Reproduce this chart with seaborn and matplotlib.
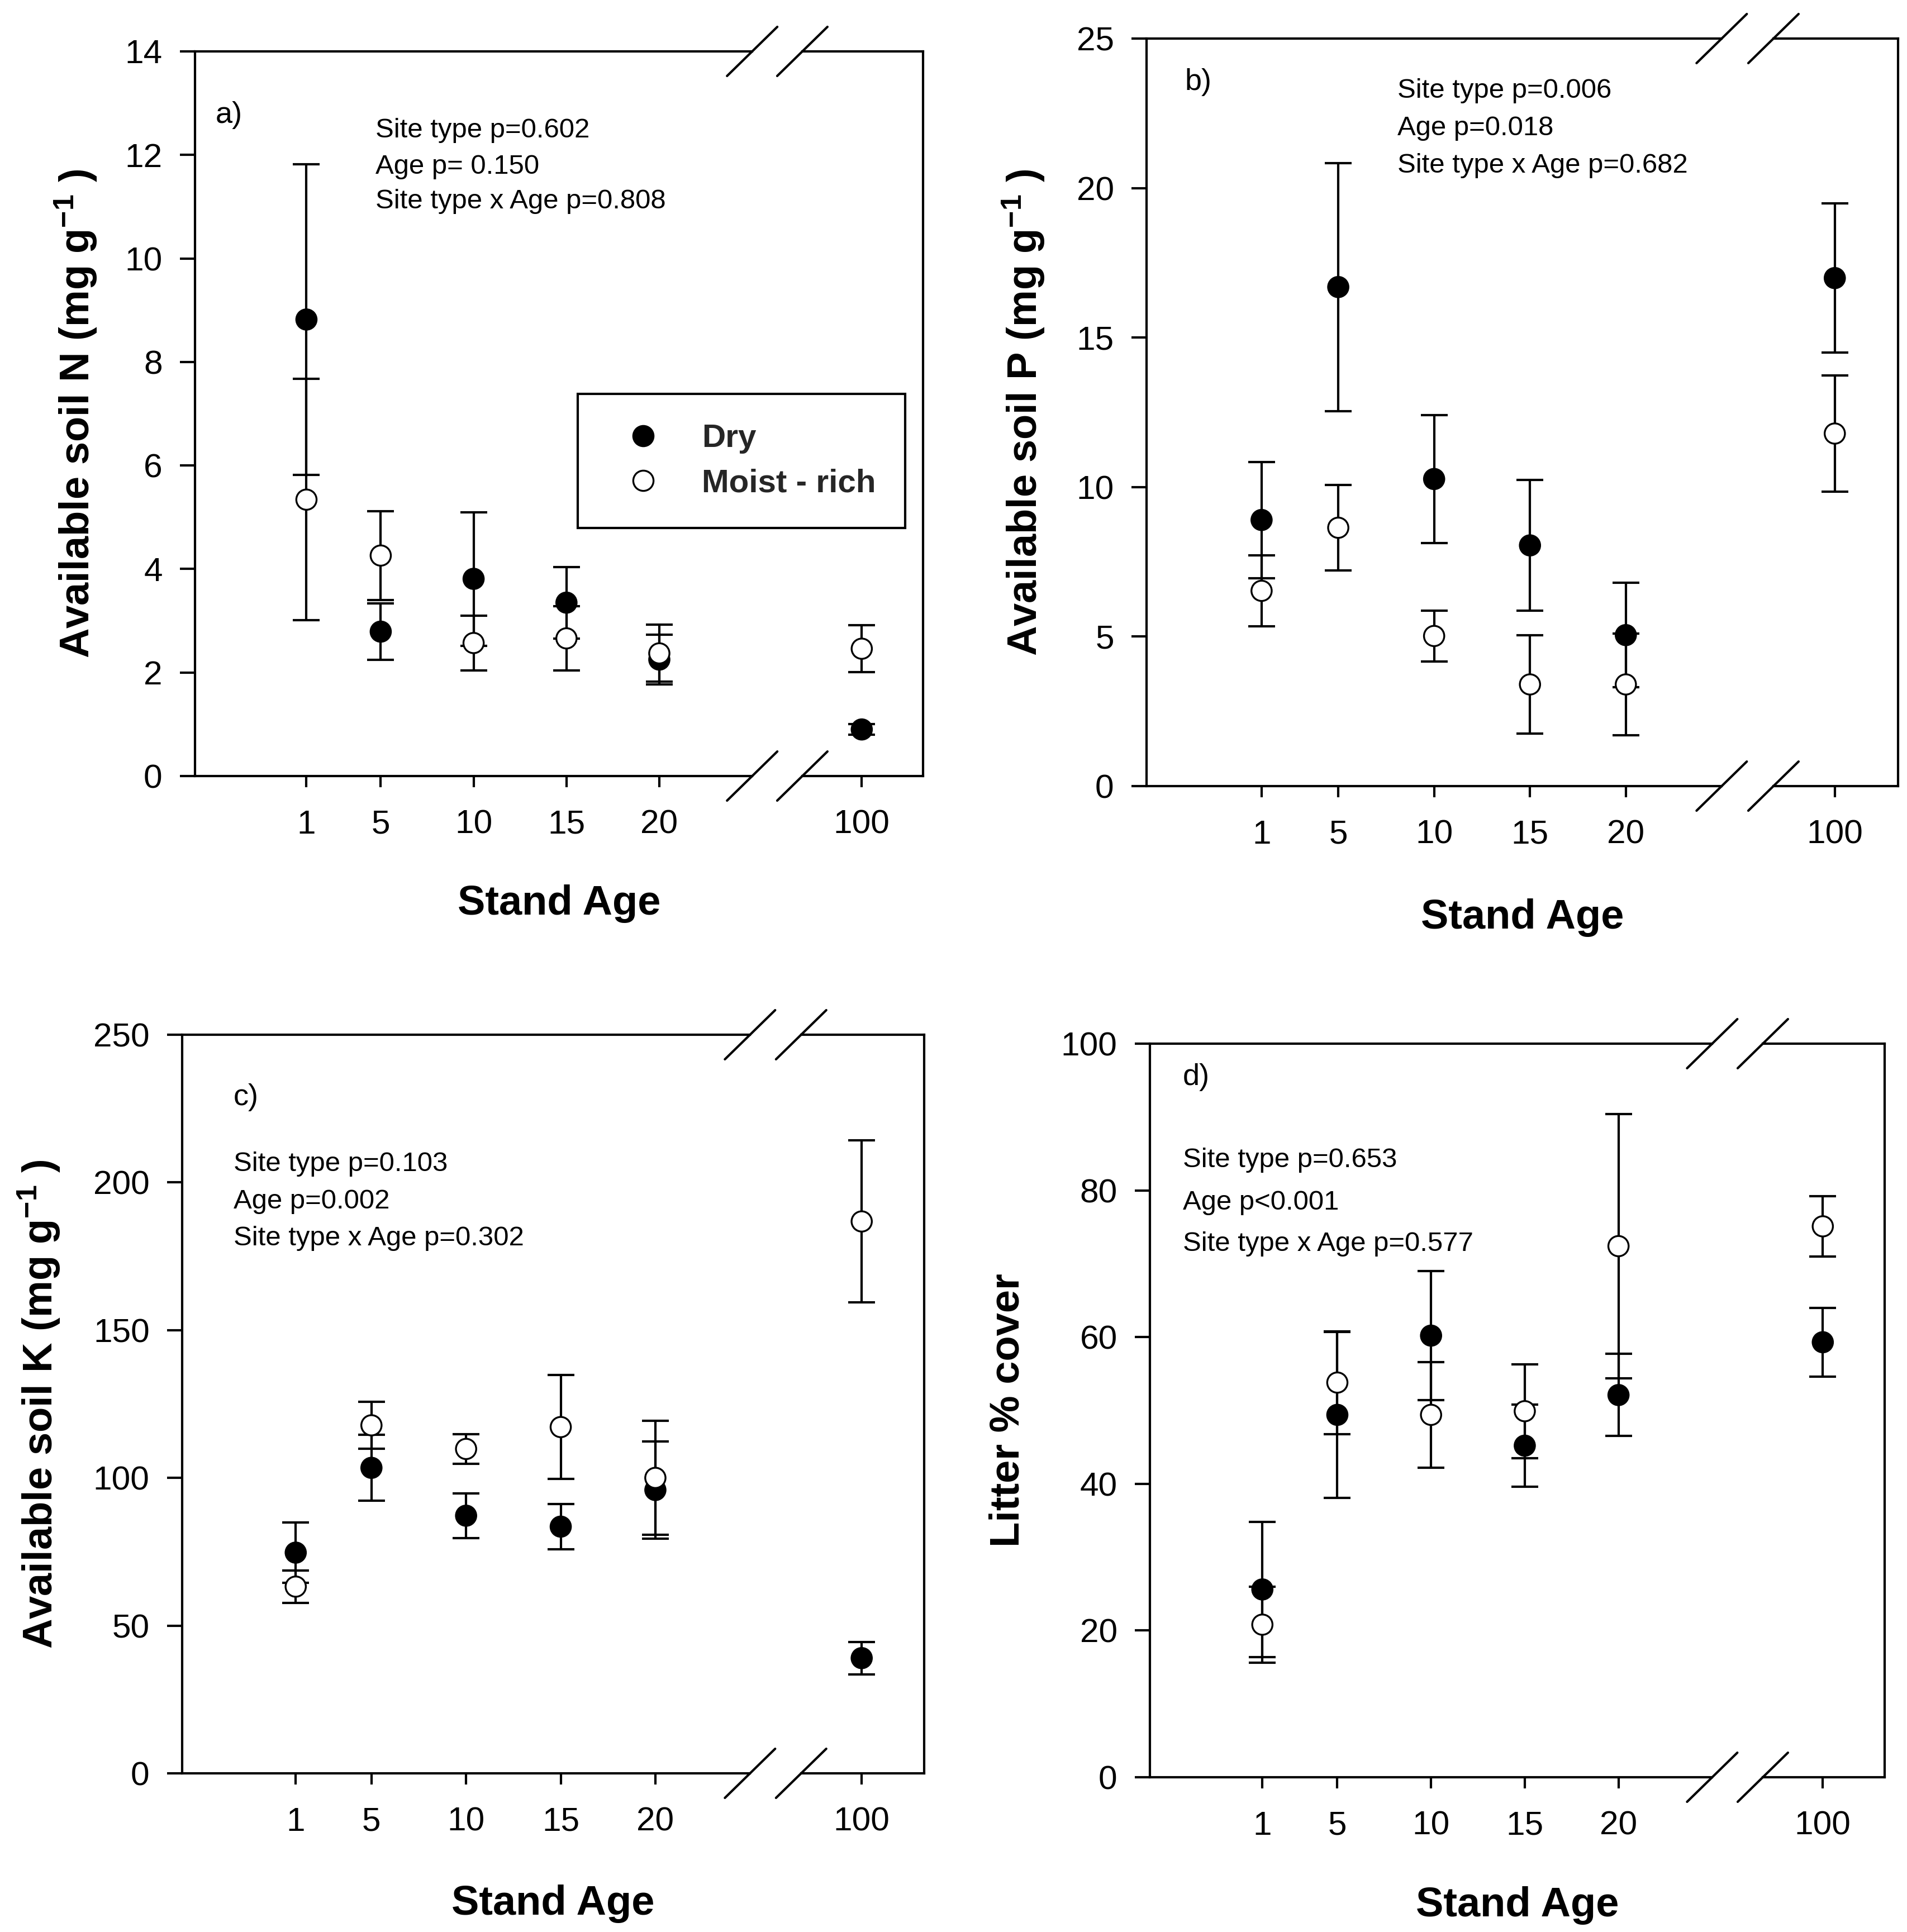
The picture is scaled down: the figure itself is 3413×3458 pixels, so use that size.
import numpy as np
import pandas as pd
import matplotlib
matplotlib.use("Agg")
import matplotlib.pyplot as plt
from matplotlib.lines import Line2D
import seaborn as sns

# ---------------- data ----------------
ages = [1, 5, 10, 15, 20, 100]
tick_labels = ["1", "5", "10", "15", "20", "100"]
sites = ["Dry", "Moist - rich"]

n_dry = [8.82, 2.79, 3.81, 3.35, 2.25, 0.90]
n_dry_se = [3.00, 0.55, 1.29, 0.69, 0.48, 0.10]
n_moist = [5.34, 4.26, 2.57, 2.66, 2.37, 2.46]
n_moist_se = [2.33, 0.86, 0.53, 0.62, 0.55, 0.45]

p_dry = [8.90, 16.69, 10.27, 8.05, 5.05, 16.99]
p_dry_se = [1.94, 4.15, 2.14, 2.18, 1.75, 2.50]
p_moist = [6.53, 8.64, 5.02, 3.40, 3.40, 11.79]
p_moist_se = [1.19, 1.43, 0.85, 1.65, 1.70, 1.95]

k_dry = [74.7, 103.4, 87.2, 83.5, 95.9, 39.0]
k_dry_se = [10.3, 11.2, 7.5, 7.6, 16.5, 5.5]
k_moist = [63.2, 117.8, 109.8, 117.2, 100.0, 186.8]
k_moist_se = [5.5, 8.0, 5.0, 17.6, 19.3, 27.4]

l_dry = [25.6, 49.4, 60.2, 45.2, 52.1, 59.3]
l_dry_se = [9.2, 11.3, 8.8, 5.6, 5.6, 4.7]
l_moist = [20.8, 53.8, 49.4, 49.9, 72.4, 75.1]
l_moist_se = [5.2, 7.0, 7.2, 6.4, 18.0, 4.1]

ylabels = [r"Available soil N (mg g$^{-1}$ )", r"Available soil P (mg g$^{-1}$ )",
           r"Available soil K (mg g$^{-1}$ )", "Litter % cover"]
panel_tags = ["a)", "b)", "c)", "d)"]
stats_text = [["Site type p=0.602", "Age p= 0.150", "Site type x Age p=0.808"],
              ["Site type p=0.006", "Age p=0.018", "Site type x Age p=0.682"],
              ["Site type p=0.103", "Age p=0.002", "Site type x Age p=0.302"],
              ["Site type p=0.653", "Age p<0.001", "Site type x Age p=0.577"]]
y_max = [14, 25, 250, 100]
y_step = [2, 5, 50, 20]

# ---------------- style ----------------
sns.set_theme(style="ticks")
plt.rcParams["font.family"] = ["Liberation Sans", "DejaVu Sans"]
plt.rcParams["mathtext.fontset"] = "custom"
plt.rcParams["mathtext.rm"] = "Liberation Sans"
plt.rcParams["mathtext.default"] = "regular"

DPI = 300
W, H = 3413, 3458
fig = plt.figure(figsize=(W / DPI, H / DPI), dpi=DPI)

# axes rectangles in pixels: left, top, right, bottom
rects = [(349, 92, 1652, 1389), (2052, 69, 3397, 1407),
         (326, 1852, 1654, 3174), (2058, 1868, 3373, 3181)]

# broken x axis layout (positions along the drawn axis)
pos_map = {1: 1, 5: 5, 10: 10, 15: 15, 20: 20, 100: 30.9}
XMIN, XMAX = -5.0, 34.2
BRK0, BRK1 = 25.0, 27.7
LW = 1.0

text_pos = [
    dict(tag=(0.028, 0.912), st=(0.248, [0.891, 0.841, 0.793]), xl=-0.176, yl=-0.164),
    dict(tag=(0.051, 0.942), st=(0.334, [0.930, 0.880, 0.830]), xl=-0.176, yl=-0.164),
    dict(tag=(0.069, 0.915), st=(0.069, [0.825, 0.774, 0.724]), xl=-0.177, yl=-0.193),
    dict(tag=(0.045, 0.954), st=(0.045, [0.841, 0.783, 0.727]), xl=-0.175, yl=-0.193),
]

series = [(n_dry, n_dry_se, n_moist, n_moist_se),
          (p_dry, p_dry_se, p_moist, p_moist_se),
          (k_dry, k_dry_se, k_moist, k_moist_se),
          (l_dry, l_dry_se, l_moist, l_moist_se)]

for i, (rect, (dry, dry_se, moist, moist_se)) in enumerate(zip(rects, series)):
    l, t, r, b = rect
    ax = fig.add_axes([l / W, 1 - b / H, (r - l) / W, (b - t) / H])
    xs = [pos_map[a] for a in ages]
    df = pd.DataFrame({
        "pos": xs + xs,
        "value": list(dry) + list(moist),
        "se": list(dry_se) + list(moist_se),
        "site": [sites[0]] * len(xs) + [sites[1]] * len(xs),
    })
    for s in sites:
        d = df[df["site"] == s]
        ax.errorbar(d["pos"], d["value"], yerr=d["se"], fmt="none", ecolor="black",
                    elinewidth=LW, capsize=5.8, capthick=LW, zorder=2)
    sns.scatterplot(data=df, x="pos", y="value", hue="site", hue_order=sites,
                    palette={"Dry": "black", "Moist - rich": "white"},
                    edgecolor="black", linewidth=0.8, s=8.7 ** 2, legend=False,
                    zorder=3, ax=ax)

    ax.set_xlim(XMIN, XMAX)
    ax.set_ylim(0, y_max[i])
    ax.set_yticks(np.arange(0, y_max[i] + 0.001, y_step[i]))
    ax.set_xticks(xs)
    ax.set_xticklabels(tick_labels)
    ax.tick_params(axis="x", direction="out", length=4.8, width=LW, pad=9.5,
                   labelsize=14.5, colors="black", top=False)
    ax.tick_params(axis="y", direction="out", length=6.5, width=LW, pad=7.5,
                   labelsize=14.5, colors="black", right=False)

    for sp in ["left", "right"]:
        ax.spines[sp].set_linewidth(LW)
        ax.spines[sp].set_color("black")
    ax.spines["top"].set_visible(False)
    ax.spines["bottom"].set_visible(False)

    # broken top & bottom frame with slashes
    trans = ax.get_xaxis_transform()
    ax_w_px = r - l
    ax_h_px = b - t
    dx = 45.0 / ax_w_px * (XMAX - XMIN)
    dy = 44.0 / ax_h_px
    for yy in (0, 1):
        ax.plot([XMIN, BRK0], [yy, yy], color="black", lw=LW, transform=trans,
                clip_on=False, solid_capstyle="projecting", zorder=5)
        ax.plot([BRK1, XMAX], [yy, yy], color="black", lw=LW, transform=trans,
                clip_on=False, solid_capstyle="projecting", zorder=5)
        for xb in (BRK0, BRK1):
            ax.plot([xb - dx, xb + dx], [yy - dy, yy + dy], color="black", lw=LW,
                    transform=trans, clip_on=False, zorder=5)

    tp = text_pos[i]
    ax.text(tp["tag"][0], tp["tag"][1], panel_tags[i], transform=ax.transAxes,
            fontsize=13, ha="left", va="center", color="black")
    for line, yy in zip(stats_text[i], tp["st"][1]):
        ax.text(tp["st"][0], yy, line, transform=ax.transAxes, fontsize=11.8,
                ha="left", va="center", color="black")

    ax.set_xlabel("Stand Age", fontsize=17.8, fontweight="bold", va="center", color="black")
    ax.xaxis.set_label_coords(0.5, tp["xl"])
    ax.set_ylabel(ylabels[i], fontsize=17.8, fontweight="bold", va="center", color="black")
    ax.yaxis.set_label_coords(tp["yl"], 0.5)

    if i == 0:
        handles = [Line2D([], [], ls="none", marker="o", markersize=8.7,
                          markerfacecolor="black", markeredgecolor="black", markeredgewidth=0.8),
                   Line2D([], [], ls="none", marker="o", markersize=8.7,
                          markerfacecolor="white", markeredgecolor="black", markeredgewidth=0.8)]
        leg = ax.legend(handles, sites, loc="upper left", bbox_to_anchor=(0.526, 0.527),
                        borderaxespad=0, frameon=True, fancybox=False, borderpad=0.9,
                        handlelength=2.2, handletextpad=0.7, labelspacing=0.45,
                        prop={"size": 14, "weight": "bold"})
        fr = leg.get_frame()
        fr.set_edgecolor("black")
        fr.set_linewidth(LW)
        fr.set_alpha(1)

fig.savefig("out.png", dpi=DPI, facecolor="white")
